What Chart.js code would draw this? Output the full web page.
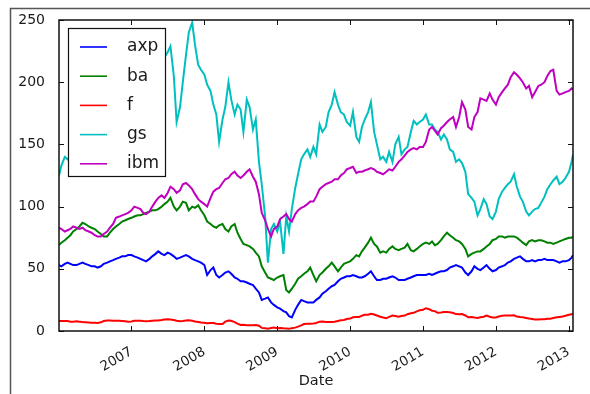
<!DOCTYPE html>
<html>
<head>
<meta charset="utf-8">
<script src="https://cdn.jsdelivr.net/npm/chart.js@4.4.1/dist/chart.umd.min.js"></script>
<style>
  html, body { margin: 0; padding: 0; background: #ffffff; }
  #wrap { position: relative; width: 590px; height: 394px; }
  canvas { display: block; }
</style>
</head>
<body>
<div id="wrap"><canvas id="c" width="590" height="394"></canvas></div>
<script>
// Sample dates (twice a month) for the closing prices
const dates = [
  '2006-01-03','2006-01-15','2006-02-01','2006-02-15','2006-03-01','2006-03-15','2006-04-01','2006-04-15','2006-05-01','2006-05-15','2006-06-01','2006-06-15','2006-07-01','2006-07-15','2006-08-01','2006-08-15','2006-09-01','2006-09-15','2006-10-01','2006-10-15','2006-11-01','2006-11-15','2006-12-01','2006-12-15',
  '2007-01-01','2007-01-15','2007-02-01','2007-02-15','2007-03-01','2007-03-15','2007-04-01','2007-04-15','2007-05-01','2007-05-15','2007-06-01','2007-06-15','2007-07-01','2007-07-15','2007-08-01','2007-08-15','2007-09-01','2007-09-15','2007-10-01','2007-10-15','2007-11-01','2007-11-15','2007-12-01','2007-12-15',
  '2008-01-01','2008-01-15','2008-02-01','2008-02-15','2008-03-01','2008-03-15','2008-04-01','2008-04-15','2008-05-01','2008-05-15','2008-06-01','2008-06-15','2008-07-01','2008-07-15','2008-08-01','2008-08-15','2008-09-01','2008-09-15','2008-10-01','2008-10-15','2008-11-01','2008-11-15','2008-12-01','2008-12-15',
  '2009-01-01','2009-01-15','2009-02-01','2009-02-15','2009-03-01','2009-03-15','2009-04-01','2009-04-15','2009-05-01','2009-05-15','2009-06-01','2009-06-15','2009-07-01','2009-07-15','2009-08-01','2009-08-15','2009-09-01','2009-09-15','2009-10-01','2009-10-15','2009-11-01','2009-11-15','2009-12-01','2009-12-15',
  '2010-01-01','2010-01-15','2010-02-01','2010-02-15','2010-03-01','2010-03-15','2010-04-01','2010-04-15','2010-05-01','2010-05-15','2010-06-01','2010-06-15','2010-07-01','2010-07-15','2010-08-01','2010-08-15','2010-09-01','2010-09-15','2010-10-01','2010-10-15','2010-11-01','2010-11-15','2010-12-01','2010-12-15',
  '2011-01-01','2011-01-15','2011-02-01','2011-02-15','2011-03-01','2011-03-15','2011-04-01','2011-04-15','2011-05-01','2011-05-15','2011-06-01','2011-06-15','2011-07-01','2011-07-15','2011-08-01','2011-08-15','2011-09-01','2011-09-15','2011-10-01','2011-10-15','2011-11-01','2011-11-15','2011-12-01','2011-12-15',
  '2012-01-01','2012-01-15','2012-02-01','2012-02-15','2012-03-01','2012-03-15','2012-04-01','2012-04-15','2012-05-01','2012-05-15','2012-06-01','2012-06-15','2012-07-01','2012-07-15','2012-08-01','2012-08-15','2012-09-01','2012-09-15','2012-10-01','2012-10-15','2012-11-01','2012-11-15','2012-12-01','2012-12-15',
  '2013-01-02','2013-01-15','2013-01-22'
];

const axp = [
  53,52,54,55,54,53,53,54,55,54,53,52,52,51,52,54,55,56,57,58,59,60,60,61,
  61,60,59,58,57,56,58,60,62,64,62,61,63,62,60,58,59,60,61,60,58,57,56,55,
  53,45,49,51,45,43,45,47,48,46,43,42,40,40,39,38,37,34,31,25,26,27,23,21,
  19,18,16,15,12,11,17,21,25,24,23,23,23,25,27,30,32,34,36,37,40,42,43,44,
  44,45,44,43,43,44,46,48,44,41,41,42,42,43,44,43,41,41,41,42,43,44,45,45,
  45,45,46,45,46,47,48,48,49,51,52,53,52,51,47,45,48,52,50,49,51,53,50,48,
  49,51,52,53,55,56,58,59,60,58,56,56,57,56,57,57,58,57,57,57,56,55,56,56,
  57,59,61
];

const ba = [
  69,71,73,75,77,80,82,84,87,86,84,83,82,80,78,76,76,79,82,84,86,88,89,90,
  91,92,93,93,94,95,96,97,97,98,100,102,104,107,100,97,100,104,103,97,100,99,101,97,
  93,88,86,84,83,85,86,82,80,84,86,79,74,70,69,68,66,63,60,52,47,43,42,41,
  43,44,45,33,31,34,38,42,44,46,48,51,45,40,45,47,50,52,55,52,48,51,54,55,
  56,58,61,60,64,67,71,75,70,68,63,64,63,66,68,66,65,66,67,70,65,64,66,68,
  70,71,70,72,69,70,73,76,79,77,75,73,72,70,66,60,62,63,64,64,66,68,70,73,
  74,76,76,75,76,76,76,75,73,71,69,72,73,72,73,73,72,71,71,70,71,72,73,74,
  75,75,76
];

const f = [
  8,8,8,8,7.5,7.5,7.8,7.5,7.2,7,6.8,6.6,6.6,6.5,7,8,8.5,8.5,8.2,8.3,8.2,8,7.8,7.5,
  7.6,8.2,8.3,8.3,8,7.9,8,8.3,8.4,8.5,8.8,9.2,9.4,9.2,8.8,8.2,7.8,8,8.4,8.6,8.2,7.6,7.2,6.8,
  6.7,6.3,6.5,6.4,5.8,5.6,5.7,7.5,8.4,8.2,7.2,6,4.8,5,4.7,4.6,4.6,4.8,4.2,2.5,2.3,1.8,2.4,2.8,
  2.3,2.4,2.2,2.1,1.9,2.3,2.7,3.5,4.5,5.6,5.8,5.8,6.1,6.5,7.5,7.7,7.3,7.2,7.2,7.5,8.1,8.6,8.8,9.6,
  10,11,11.2,11.3,12.3,13,13.1,13.8,13.3,12.5,11.5,10.8,10.2,11.3,12.4,12,11.5,12,12.4,13.5,14.2,14.6,15.8,16.6,
  17,18.3,17.5,16.3,16,14.6,14.9,15.3,15.2,15,14.5,13.6,13.5,13.6,12.5,11,11.3,10.8,10.5,11,11.5,12.4,11.5,10.8,
  10.9,11.6,12.3,12.4,12.5,12.4,12.6,11.6,11.2,11.1,10.5,10,9.6,9.3,9.2,9.4,9.4,9.8,9.9,10.4,11,11.3,11.6,12.3,
  13,13.5,14
];

const gs = [
  125,133,140,138,140,146,156,152,160,150,148,138,150,145,148,152,150,162,170,174,180,186,192,198,
  200,208,215,222,205,198,206,214,222,228,230,220,224,229,205,168,180,200,222,240,248,230,214,210,
  206,198,193,182,174,152,170,180,200,186,174,182,178,160,186,180,162,170,136,118,92,55,82,86,
  80,88,62,92,80,98,115,126,138,142,146,140,148,142,166,160,164,176,182,192,182,176,174,168,
  165,176,156,152,164,170,176,184,160,150,138,140,136,144,136,150,156,142,146,148,160,169,166,168,
  170,174,166,166,162,160,154,158,154,146,144,136,138,135,128,110,107,104,93,98,106,102,92,90,
  96,106,112,115,118,120,126,116,108,104,96,93,96,98,99,103,108,114,118,121,124,118,120,123,
  128,136,142
];

const ibm = [
  83,82,80,81,82,84,83,82,83,81,80,79,77,76,76,78,80,83,86,91,92,93,94,95,
  97,100,99,98,95,94,96,100,104,107,109,107,111,116,114,111,113,118,119,117,114,110,106,104,
  102,100,107,112,114,115,119,122,123,126,128,125,123,125,128,130,124,120,110,95,89,82,76,82,
  84,90,92,94,90,88,94,97,99,100,102,104,104,108,114,116,118,119,120,122,122,125,127,130,
  131,132,127,128,128,129,130,131,130,128,127,126,128,130,129,132,136,138,141,144,146,147,146,148,
  148,152,162,164,161,158,163,165,168,170,172,164,172,184,178,164,162,172,176,187,186,185,191,186,
  182,188,192,195,198,204,208,206,203,200,195,197,188,192,197,198,200,205,209,210,193,190,191,192,
  193,195,194
];

const seriesNames = ['axp', 'ba', 'f', 'gs', 'ibm'];
const seriesValues = [axp, ba, f, gs, ibm];
const seriesColors = ['#0000ff', '#008000', '#ff0000', '#00bfbf', '#bf00bf'];
const xTickYears = [2007, 2008, 2009, 2010, 2011, 2012, 2013];
const yTicks = [0, 50, 100, 150, 200, 250];

// 'YYYY-MM-DD' -> fractional year, so the x axis can be a plain linear scale
function toYear(s) {
  const [y, m, d] = s.split('-').map(Number);
  const start = Date.UTC(y, 0, 1), end = Date.UTC(y + 1, 0, 1);
  return y + (Date.UTC(y, m - 1, d) - start) / (end - start);
}

const xs = dates.map(toYear);

// Axes box, inward tick marks, legend and the outer panel frame
const framePlugin = {
  id: 'frame',
  beforeDraw(chart) {
    const ctx = chart.ctx;
    ctx.save();
    ctx.strokeStyle = '#555555';
    ctx.lineWidth = 1.5;
    ctx.beginPath();
    ctx.moveTo(10.5, 394);
    ctx.lineTo(10.5, 8.5);
    ctx.lineTo(590, 8.5);
    ctx.stroke();
    ctx.restore();
  },
  afterDatasetsDraw(chart) {
    const ctx = chart.ctx;
    const a = chart.chartArea;
    const x = chart.scales.x, y = chart.scales.y;
    ctx.save();
    ctx.strokeStyle = '#111111';
    ctx.lineWidth = 1;
    ctx.beginPath();
    xTickYears.forEach(v => {
      const px = Math.round(x.getPixelForValue(v)) + 0.5;
      ctx.moveTo(px, a.bottom); ctx.lineTo(px, a.bottom - 5);
      ctx.moveTo(px, a.top); ctx.lineTo(px, a.top + 5);
    });
    yTicks.forEach(v => {
      const py = Math.round(y.getPixelForValue(v)) + 0.5;
      ctx.moveTo(a.left, py); ctx.lineTo(a.left + 5, py);
      ctx.moveTo(a.right, py); ctx.lineTo(a.right - 5, py);
    });
    ctx.stroke();
    ctx.lineWidth = 1.5;
    ctx.strokeRect(a.left, a.top, a.right - a.left, a.bottom - a.top);

    // legend box
    const lx = 68.5, ly = 28.5, lw = 97, lh = 148;
    ctx.fillStyle = '#ffffff';
    ctx.fillRect(lx, ly, lw, lh);
    ctx.strokeStyle = '#111111';
    ctx.lineWidth = 1.2;
    ctx.strokeRect(lx, ly, lw, lh);
    ctx.font = "17px 'DejaVu Sans'";
    ctx.textBaseline = 'middle';
    ctx.textAlign = 'left';
    seriesNames.forEach((name, i) => {
      const ry = 47 + i * 29.2;
      ctx.strokeStyle = seriesColors[i];
      ctx.lineWidth = 1.6;
      ctx.beginPath();
      ctx.moveTo(80, ry); ctx.lineTo(107, ry);
      ctx.stroke();
      ctx.fillStyle = '#1a1a1a';
      ctx.fillText(name, 127, ry);
    });
    ctx.restore();
  }
};

Chart.defaults.font.family = "'DejaVu Sans', sans-serif";
Chart.defaults.color = '#1a1a1a';

new Chart(document.getElementById('c'), {
  type: 'line',
  data: {
    datasets: seriesNames.map((name, i) => ({
      label: name,
      data: xs.map((xv, k) => ({ x: xv, y: seriesValues[i][k] })),
      borderColor: seriesColors[i],
      backgroundColor: seriesColors[i],
      borderWidth: 2,
      pointRadius: 0,
      tension: 0,
      fill: false,
      order: seriesNames.length - i
    }))
  },
  options: {
    responsive: false,
    animation: false,
    events: [],
    layout: { padding: { left: 0, right: 17, top: 20, bottom: 0 } },
    plugins: { legend: { display: false }, tooltip: { enabled: false } },
    scales: {
      x: {
        type: 'linear',
        min: xs[0],
        max: xs[xs.length - 1],
        grid: { display: false },
        border: { display: false },
        afterBuildTicks: s => { s.ticks = xTickYears.map(v => ({ value: v })); },
        afterFit: s => { s.height = 63; },
        ticks: {
          autoSkip: false,
          minRotation: 30,
          maxRotation: 30,
          padding: 5,
          font: { size: 13.5 },
          callback: v => String(v)
        },
        title: { display: true, text: 'Date', font: { size: 14.5 }, padding: { top: 0, bottom: 4 } }
      },
      y: {
        min: 0,
        max: 250,
        grid: { display: false },
        border: { display: false },
        afterBuildTicks: s => { s.ticks = yTicks.map(v => ({ value: v })); },
        afterFit: s => { s.width = 59; },
        ticks: { padding: 6, font: { size: 14 } }
      }
    }
  },
  plugins: [framePlugin]
});
</script>
</body>
</html>
